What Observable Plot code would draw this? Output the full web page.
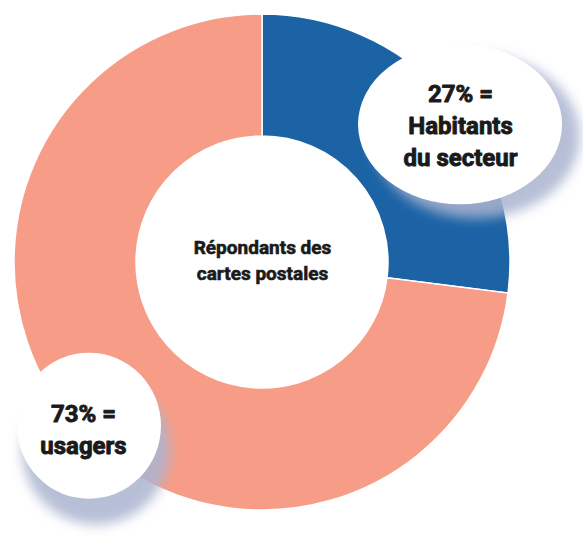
<!DOCTYPE html>
<html><head><meta charset="utf-8">
<script src="https://cdn.jsdelivr.net/npm/d3@7"></script>
<script src="https://cdn.jsdelivr.net/npm/@observablehq/plot@0.6"></script>
<style>
html,body{margin:0;padding:0;background:#ffffff;}
#chart svg{display:block;}
</style></head><body><div id="chart"></div>
<script>
// ---- data ----
const categories = ["Habitants du secteur", "Usagers"];
const shares = [27, 73];
const labelTexts = ["27% =\nHabitants\ndu secteur", "73% =\nusagers"];
const centerText = "Répondants des\ncartes postales";
const colors = ["#1b63a5", "#f79c86"];

// ---- layout / style ----
const W = 583, H = 535;
const CX = 262, CY = 262;
const R_OUT = 248, R_IN = 126, R_LAB = 240;
const FONT = "Roboto, 'DejaVu Sans', sans-serif";
const bubbleStyle = [
  {dx: 18, dy: 21, rx: 102, ry: 80, sdx: 16, sdy: 12, tdx: 0, tdy: -1},
  {dx: 7, dy: 5, rx: 72, ry: 73, sdx: 7, sdy: 24, tdx: -6, tdy: 2}
];

const slices = categories.map((c, i) => ({category: c, value: shares[i], label: labelTexts[i]}));
const arcs = d3.pie().sort(null).value(d => d.value)(slices);
const color = Plot.scale({color: {domain: categories, range: colors}});

const labels = arcs.map((a, i) => {
  const m = (a.startAngle + a.endAngle) / 2;
  const s = bubbleStyle[i];
  return {
    label: a.data.label,
    x: R_LAB * Math.sin(m) + s.dx,
    y: -R_LAB * Math.cos(m) + s.dy,
    ...s
  };
});

function donutMark(index, scales) {
  const g = d3.create("svg:g")
    .attr("transform", `translate(${scales.x(0)},${scales.y(0)})`);
  const arc = d3.arc().innerRadius(R_IN).outerRadius(R_OUT);
  g.selectAll("path").data(arcs).join("path")
    .attr("d", arc)
    .attr("fill", d => color.apply(d.data.category))
    .attr("stroke", "#ffffff")
    .attr("stroke-width", 1.5);
  return g.node();
}

function bubbleMark(index, scales) {
  const g = d3.create("svg:g");
  const f = g.append("defs").append("filter").attr("id", "shadowBlur")
    .attr("x", "-50%").attr("y", "-50%").attr("width", "200%").attr("height", "200%");
  f.append("feGaussianBlur").attr("stdDeviation", 6);
  for (const l of labels) {
    g.append("ellipse")
      .attr("cx", scales.x(l.x) + l.sdx).attr("cy", scales.y(l.y) + l.sdy)
      .attr("rx", l.rx + 2).attr("ry", l.ry + 2)
      .attr("fill", "#aab4d0").attr("fill-opacity", 0.85)
      .attr("filter", "url(#shadowBlur)");
  }
  for (const l of labels) {
    g.append("ellipse")
      .attr("cx", scales.x(l.x)).attr("cy", scales.y(l.y))
      .attr("rx", l.rx).attr("ry", l.ry)
      .attr("fill", "#ffffff");
  }
  return g.node();
}

const chart = Plot.plot({
  width: W, height: H, margin: 0,
  style: {background: "#ffffff"},
  x: {domain: [-CX, W - CX], range: [0, W], axis: null},
  y: {domain: [-CY, H - CY], range: [0, H], axis: null},
  marks: [
    donutMark,
    bubbleMark,
    Plot.text(labels, {
      x: d => d.x + d.tdx, y: d => d.y + d.tdy, text: "label",
      fontSize: 24, fontWeight: "bold", lineHeight: 1.33,
      fill: "#1a1a1a", stroke: "#1a1a1a", strokeWidth: 0.9, fontFamily: FONT
    }),
    Plot.text([centerText], {
      x: () => 0, y: () => -4, text: d => d,
      fontSize: 19, fontWeight: "bold", lineHeight: 1.38,
      fill: "#1a1a1a", stroke: "#1a1a1a", strokeWidth: 0.6, fontFamily: FONT
    })
  ]
});
document.getElementById("chart").append(chart);
</script>
</body></html>
